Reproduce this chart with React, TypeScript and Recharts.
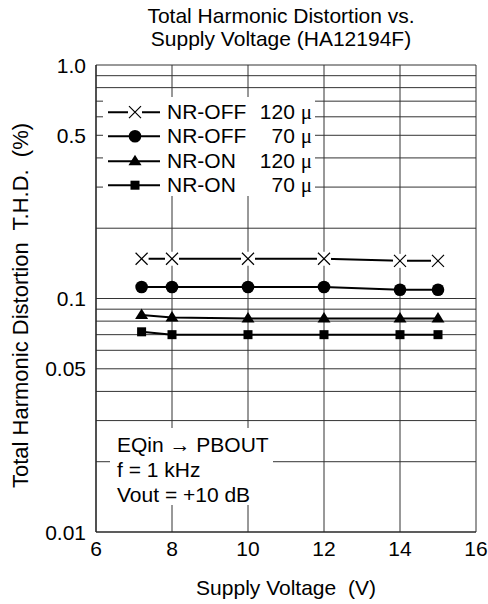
import React from "react";
import { LineChart, Line, XAxis, YAxis, CartesianGrid } from "recharts";

const FONT = '"Liberation Sans", Arial, sans-serif';

const voltages = [7.2, 8, 10, 12, 14, 15];
const nrOff120 = [0.148, 0.148, 0.148, 0.148, 0.145, 0.145];
const nrOff70 = [0.112, 0.112, 0.112, 0.112, 0.109, 0.109];
const nrOn120 = [0.085, 0.083, 0.082, 0.082, 0.082, 0.082];
const nrOn70 = [0.072, 0.07, 0.07, 0.07, 0.07, 0.07];

const xTicks = [6, 8, 10, 12, 14, 16];
const yGrid = [
  0.01, 0.02, 0.03, 0.04, 0.05, 0.06, 0.07, 0.08, 0.09,
  0.1, 0.2, 0.3, 0.4, 0.5, 0.6, 0.7, 0.8, 0.9, 1.0,
];
const yLabelValues = [0.01, 0.05, 0.1, 0.5, 1.0];
const yLabelText = ["0.01", "0.05", "0.1", "0.5", "1.0"];

const titleLines = ["Total Harmonic Distortion vs.", "Supply Voltage (HA12194F)"];
const notes = ["EQin \u2192 PBOUT", "f = 1 kHz", "Vout = +10 dB"];

const series = [
  { key: "off120", mode: "NR-OFF", tc: "120", shape: "x" },
  { key: "off70", mode: "NR-OFF", tc: "70", shape: "circle" },
  { key: "on120", mode: "NR-ON", tc: "120", shape: "triangle" },
  { key: "on70", mode: "NR-ON", tc: "70", shape: "square" },
];

const data = voltages.map((v, i) => ({
  v,
  off120: nrOff120[i],
  off70: nrOff70[i],
  on120: nrOn120[i],
  on70: nrOn70[i],
}));

function Marker({ cx, cy, shape }: { cx: number; cy: number; shape: string }) {
  if (shape === "x") {
    return (
      <g>
        <rect x={cx - 7} y={cy - 7} width={14} height={14} fill="#fff" />
        <path
          d={`M${cx - 6},${cy - 6}L${cx + 6},${cy + 6}M${cx + 6},${cy - 6}L${cx - 6},${cy + 6}`}
          stroke="#000"
          strokeWidth={1.2}
        />
      </g>
    );
  }
  if (shape === "circle") return <circle cx={cx} cy={cy} r={6.3} fill="#000" />;
  if (shape === "triangle")
    return (
      <path d={`M${cx},${cy - 6.5}L${cx + 6.5},${cy + 4}L${cx - 6.5},${cy + 4}Z`} fill="#000" />
    );
  return <rect x={cx - 4.5} y={cy - 4.5} width={9} height={9} fill="#000" />;
}

function YTick(props: any) {
  const { x, y, payload } = props;
  const idx = yLabelValues.indexOf(payload.value);
  if (idx < 0) return <g />;
  return (
    <text x={x} y={y} dy="0.36em" textAnchor="end" fontSize={21} fontFamily={FONT} fill="#000">
      {yLabelText[idx]}
    </text>
  );
}

function XTick(props: any) {
  const { x, y, payload } = props;
  return (
    <text x={x} y={y} dy="0.71em" textAnchor="middle" fontSize={21} fontFamily={FONT} fill="#000">
      {payload.value}
    </text>
  );
}

function XTitle(props: any) {
  const vb = props.viewBox;
  return (
    <text
      x={vb.x + vb.width / 2}
      y={vb.y + 63}
      textAnchor="middle"
      fontSize={21}
      fontFamily={FONT}
      fill="#000"
      style={{ whiteSpace: "pre" }}
    >
      {"Supply Voltage  (V)"}
    </text>
  );
}

function YTitle(props: any) {
  const vb = props.viewBox;
  const cx = vb.x + 20;
  const cy = vb.y + vb.height / 2 + 7;
  return (
    <text
      x={cx}
      y={cy}
      dy="0.36em"
      textAnchor="middle"
      fontSize={22}
      fontFamily={FONT}
      fill="#000"
      transform={`rotate(-90 ${cx} ${cy})`}
      style={{ whiteSpace: "pre" }}
    >
      {"Total Harmonic Distortion  T.H.D.  (%)"}
    </text>
  );
}

export default function App() {
  return (
    <div
      style={{
        position: "absolute",
        left: 0,
        top: 0,
        width: 488,
        height: 604,
        background: "#fff",
        fontFamily: FONT,
        color: "#000",
      }}
    >
      <div
        style={{
          position: "absolute",
          left: 0,
          top: 4,
          width: 562,
          textAlign: "center",
          fontSize: 21,
          lineHeight: "23px",
        }}
      >
        {titleLines.map((t) => (
          <div key={t}>{t}</div>
        ))}
      </div>

      <LineChart width={488} height={604} data={data} margin={{ top: 65, right: 12, bottom: 0, left: 0 }}>
        <CartesianGrid stroke="#333" strokeWidth={1} />
        <XAxis
          dataKey="v"
          type="number"
          domain={[6, 16]}
          ticks={xTicks}
          height={72}
          tickLine={false}
          tickSize={0}
          tickMargin={9}
          axisLine={{ stroke: "#222", strokeWidth: 1.2 }}
          tick={<XTick />}
          label={<XTitle />}
        />
        <YAxis
          type="number"
          scale="log"
          domain={[0.01, 1]}
          ticks={yGrid}
          allowDataOverflow
          width={96}
          tickLine={false}
          tickSize={0}
          tickMargin={10}
          axisLine={{ stroke: "#222", strokeWidth: 1.2 }}
          tick={<YTick />}
          interval={0}
          label={<YTitle />}
        />
        {series.map((s) => (
          <Line
            key={s.key}
            dataKey={s.key}
            stroke="#000"
            strokeWidth={2}
            isAnimationActive={false}
            activeDot={false}
            dot={(p: any) => <Marker key={`${s.key}-${p.index}`} cx={p.cx} cy={p.cy} shape={s.shape} />}
          />
        ))}
      </LineChart>

      <div
        style={{
          position: "absolute",
          left: 103,
          top: 97,
          width: 212,
          height: 99,
          background: "#fff",
          paddingTop: 3,
          boxSizing: "border-box",
          fontSize: 21,
        }}
      >
        {series.map((s) => (
          <div key={s.key} style={{ position: "relative", height: 24.4, lineHeight: "24.4px" }}>
            <svg width={62} height={24.4} style={{ position: "absolute", left: 0, top: 0 }}>
              <line x1={5} x2={57} y1={12.2} y2={12.2} stroke="#000" strokeWidth={2} />
              <Marker cx={32} cy={12.2} shape={s.shape} />
            </svg>
            <span style={{ position: "absolute", left: 64, top: 0 }}>{s.mode}</span>
            <span style={{ position: "absolute", right: 3, top: 0 }}>
              {s.tc} <span style={{ fontFamily: '"Liberation Serif", serif' }}>{"\u03bc"}</span>
            </span>
          </div>
        ))}
      </div>

      <div
        style={{
          position: "absolute",
          left: 110,
          top: 428,
          width: 163,
          height: 77,
          background: "#fff",
          paddingTop: 4,
          paddingLeft: 7,
          boxSizing: "border-box",
          fontSize: 21,
          lineHeight: "25px",
          whiteSpace: "nowrap",
        }}
      >
        {notes.map((n) => (
          <div key={n}>{n}</div>
        ))}
      </div>
    </div>
  );
}
